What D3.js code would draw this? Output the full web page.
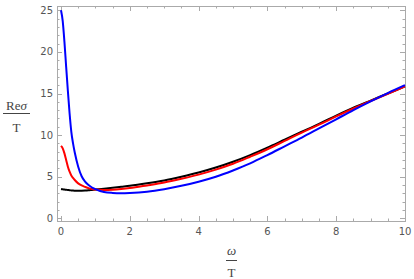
<!DOCTYPE html>
<html>
<head>
<meta charset="utf-8">
<script src="https://cdn.jsdelivr.net/npm/d3@7"></script>
<style>
  body { margin: 0; background: #fff; }
  svg { display: block; }
  .lab { font-family: "Liberation Serif", "DejaVu Serif", serif; }
</style>
</head>
<body>
<svg id="chart" width="414" height="279"></svg>
<script>
// omega / T sample points
const omega = [0, 0.05, 0.1, 0.15, 0.2, 0.25, 0.3, 0.35, 0.4, 0.5, 0.6, 0.7, 0.8, 0.9, 1.0,
  1.25, 1.5, 1.75, 2, 2.5, 3, 3.5, 4, 4.5, 5, 5.5, 6, 6.5, 7, 7.5, 8, 8.5, 9, 9.5, 10];

// Re sigma / T for each curve
const blackVals = [3.52, 3.49, 3.46, 3.43, 3.40, 3.37, 3.35, 3.33, 3.32, 3.31, 3.32, 3.34, 3.37, 3.41, 3.45,
  3.55, 3.66, 3.78, 3.9, 4.2, 4.55, 5.0, 5.5, 6.1, 6.8, 7.6, 8.5, 9.45, 10.4, 11.35, 12.35, 13.3, 14.15, 15.0, 15.85];
const redVals = [8.7, 8.4, 7.8, 7.0, 6.2, 5.6, 5.15, 4.85, 4.6, 4.2, 3.95, 3.78, 3.63, 3.53, 3.46,
  3.41, 3.44, 3.52, 3.63, 3.95, 4.3, 4.75, 5.25, 5.85, 6.55, 7.4, 8.3, 9.3, 10.3, 11.25, 12.25, 13.2, 14.1, 14.97, 15.85];
const blueVals = [25, 23.7, 21.2, 18.2, 15.3, 12.6, 10.4, 9.0, 7.9, 6.2, 5.05, 4.42, 4.0, 3.7, 3.5,
  3.15, 3.05, 3.02, 3.05, 3.2, 3.5, 3.9, 4.4, 5.0, 5.75, 6.6, 7.6, 8.65, 9.7, 10.8, 11.9, 13.0, 14.05, 15.05, 16.0];

const xTicks = [0, 2, 4, 6, 8, 10];
const yTicks = [0, 5, 10, 15, 20, 25];

const series = [
  { name: "black", color: "#000000", values: blackVals },
  { name: "red", color: "#ff0000", values: redVals },
  { name: "blue", color: "#0000ff", values: blueVals }
];

const svg = d3.select("#chart");

// frame box
const frame = { left: 57, right: 405, top: 6, bottom: 221 };

const x = d3.scaleLinear().domain([0, 10]).range([61, 405]);
const y = d3.scaleLinear().domain([0, 25]).range([218.3, 10.3]);

const frameColor = "#aaaaaa";
const tickLabelColor = "#555555";

// minor / major ticks on all sides
const xMinor = d3.range(0, 10.001, 0.5);
const yMinor = d3.range(0, 25.001, 1);

const tickG = svg.append("g").attr("stroke", frameColor).attr("stroke-width", 1);

xMinor.forEach(v => {
  const major = xTicks.includes(v);
  const len = major ? 5 : 2.5;
  const px = Math.round(x(v)) + 0.5;
  tickG.append("line").attr("x1", px).attr("x2", px)
    .attr("y1", frame.bottom).attr("y2", frame.bottom - len);
  tickG.append("line").attr("x1", px).attr("x2", px)
    .attr("y1", frame.top).attr("y2", frame.top + len);
});

yMinor.forEach(v => {
  const major = yTicks.includes(v);
  const len = major ? 5 : 2.5;
  const py = Math.round(y(v)) + 0.5;
  tickG.append("line").attr("y1", py).attr("y2", py)
    .attr("x1", frame.left).attr("x2", frame.left + len);
  tickG.append("line").attr("y1", py).attr("y2", py)
    .attr("x1", frame.right).attr("x2", frame.right - len);
});

svg.append("rect")
  .attr("x", frame.left + 0.5)
  .attr("y", frame.top + 0.5)
  .attr("width", frame.right - frame.left)
  .attr("height", frame.bottom - frame.top)
  .attr("fill", "none")
  .attr("stroke", frameColor)
  .attr("stroke-width", 1);

// tick labels
svg.append("g").selectAll("text").data(xTicks).enter().append("text")
  .attr("x", d => x(d))
  .attr("y", 235)
  .attr("text-anchor", "middle")
  .attr("font-family", "DejaVu Sans")
  .attr("font-size", 10)
  .attr("fill", tickLabelColor)
  .text(d => d);

svg.append("g").selectAll("text").data(yTicks).enter().append("text")
  .attr("x", 53)
  .attr("y", d => y(d) + 3.5)
  .attr("text-anchor", "end")
  .attr("font-family", "DejaVu Sans")
  .attr("font-size", 10)
  .attr("fill", tickLabelColor)
  .text(d => d);

// curves
const line = d3.line()
  .x((d, i) => x(omega[i]))
  .y(d => y(d))
  .curve(d3.curveMonotoneX);

svg.append("g").selectAll("path").data(series).enter().append("path")
  .attr("d", d => line(d.values))
  .attr("fill", "none")
  .attr("stroke", d => d.color)
  .attr("stroke-width", 2);

// axis labels (fractions)
const labelColor = "#444444";

const yLab = svg.append("g").attr("class", "lab").attr("font-size", 13).attr("fill", labelColor);
const yNum = yLab.append("text").attr("x", 16.5).attr("y", 110).attr("text-anchor", "middle");
yNum.append("tspan").text("Re");
yNum.append("tspan").attr("font-style", "italic").text("σ");
yLab.append("line").attr("x1", 3).attr("x2", 30).attr("y1", 113.5).attr("y2", 113.5)
  .attr("stroke", labelColor).attr("stroke-width", 1);
yLab.append("text").attr("x", 16.5).attr("y", 132).attr("text-anchor", "middle").text("T");

const xLab = svg.append("g").attr("class", "lab").attr("font-size", 13).attr("fill", labelColor);
xLab.append("text").attr("x", 231.5).attr("y", 255).attr("text-anchor", "middle")
  .attr("font-style", "italic").text("ω");
xLab.append("line").attr("x1", 226).attr("x2", 237).attr("y1", 260.5).attr("y2", 260.5)
  .attr("stroke", labelColor).attr("stroke-width", 1);
xLab.append("text").attr("x", 231.5).attr("y", 277).attr("text-anchor", "middle").text("T");
</script>
</body>
</html>
